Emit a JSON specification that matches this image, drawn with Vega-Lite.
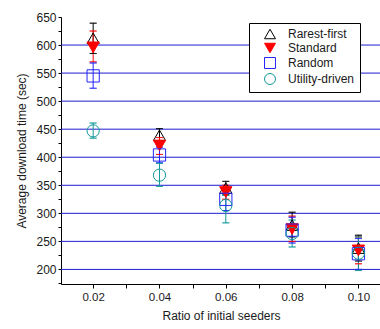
{
  "$schema": "https://vega.github.io/schema/vega-lite/v6.json",
  "autosize": {"type": "none"},
  "width": 320,
  "height": 267,
  "padding": {"left": 61, "top": 17, "right": 0, "bottom": 45},
  "background": "white",
  "config": {
    "view": {"stroke": null},
    "font": "Liberation Sans",
    "axis": {
      "labelFont": "Liberation Sans",
      "titleFont": "Liberation Sans",
      "labelColor": "#1a1a1a",
      "titleColor": "#1a1a1a",
      "titleFontWeight": "normal",
      "domainColor": "#000000",
      "tickColor": "#000000",
      "domainWidth": 1,
      "tickWidth": 1,
      "grid": false
    },
    "legend": {
      "orient": "none",
      "legendX": 188,
      "legendY": 6,
      "strokeColor": "#000000",
      "fillColor": "#ffffff",
      "padding": 5,
      "symbolOffset": 10,
      "symbolSize": 120,
      "symbolStrokeWidth": 1,
      "symbolOpacity": 1,
      "labelFont": "Liberation Sans",
      "labelFontSize": 12,
      "labelColor": "#1a1a1a",
      "labelOffset": 12,
      "rowPadding": 0
    }
  },
  "datasets": {
    "gridlines": [
      {"level": 200}, {"level": 250}, {"level": 300}, {"level": 350}, {"level": 400},
      {"level": 450}, {"level": 500}, {"level": 550}, {"level": 600}
    ],
    "results": [
      {"ratio": 0.02, "method": "Rarest-first", "mean": 612, "lo": 585, "hi": 639},
      {"ratio": 0.02, "method": "Standard", "mean": 596, "lo": 570, "hi": 625},
      {"ratio": 0.02, "method": "Random", "mean": 545, "lo": 523, "hi": 568},
      {"ratio": 0.02, "method": "Utility-driven", "mean": 447, "lo": 434, "hi": 461},
      {"ratio": 0.04, "method": "Rarest-first", "mean": 439, "lo": 428, "hi": 451},
      {"ratio": 0.04, "method": "Standard", "mean": 421, "lo": 405, "hi": 435},
      {"ratio": 0.04, "method": "Random", "mean": 404, "lo": 390, "hi": 418},
      {"ratio": 0.04, "method": "Utility-driven", "mean": 368, "lo": 348, "hi": 389},
      {"ratio": 0.06, "method": "Rarest-first", "mean": 345, "lo": 333, "hi": 357},
      {"ratio": 0.06, "method": "Standard", "mean": 338, "lo": 325, "hi": 350},
      {"ratio": 0.06, "method": "Random", "mean": 325, "lo": 305, "hi": 340},
      {"ratio": 0.06, "method": "Utility-driven", "mean": 314, "lo": 283, "hi": 332},
      {"ratio": 0.08, "method": "Rarest-first", "mean": 279, "lo": 258, "hi": 302},
      {"ratio": 0.08, "method": "Standard", "mean": 272, "lo": 250, "hi": 295},
      {"ratio": 0.08, "method": "Random", "mean": 270, "lo": 247, "hi": 293},
      {"ratio": 0.08, "method": "Utility-driven", "mean": 264, "lo": 240, "hi": 288},
      {"ratio": 0.10, "method": "Rarest-first", "mean": 238, "lo": 215, "hi": 261},
      {"ratio": 0.10, "method": "Standard", "mean": 234, "lo": 210, "hi": 258},
      {"ratio": 0.10, "method": "Random", "mean": 228, "lo": 200, "hi": 255},
      {"ratio": 0.10, "method": "Utility-driven", "mean": 229, "lo": 198, "hi": 258}
    ]
  },
  "encoding": {
    "y": {
      "type": "quantitative",
      "scale": {"domain": [174, 650], "nice": false, "zero": false},
      "axis": {
        "title": "Average download time (sec)",
        "titleFontSize": 12,
        "titlePadding": 7,
        "labelFontSize": 12,
        "labelPadding": 2,
        "values": [175, 200, 225, 250, 275, 300, 325, 350, 375, 400, 425, 450, 475, 500, 525, 550, 575, 600, 625, 650],
        "labelExpr": "datum.value % 50 === 0 ? datum.label : ''",
        "tickSize": 3
      }
    }
  },
  "layer": [
    {
      "data": {"name": "gridlines"},
      "mark": {"type": "rule", "color": "#1c1cd0", "strokeWidth": 1},
      "encoding": {"y": {"field": "level"}}
    },
    {
      "data": {"name": "results"},
      "encoding": {
        "x": {
          "field": "ratio",
          "type": "quantitative",
          "scale": {"domain": [0.0103, 0.1068], "nice": false, "zero": false},
          "axis": {
            "title": "Ratio of initial seeders",
            "titleFontSize": 12,
            "titlePadding": 8,
            "labelFontSize": 11.5,
            "labelPadding": 3,
            "values": [0.01, 0.02, 0.03, 0.04, 0.05, 0.06, 0.07, 0.08, 0.09, 0.10],
            "labelExpr": "round(datum.value * 100) % 2 === 0 ? format(datum.value, '.2f') : ''",
            "tickSize": 4
          }
        },
        "color": {
          "field": "method",
          "type": "nominal",
          "title": null,
          "scale": {
            "domain": ["Rarest-first", "Standard", "Random", "Utility-driven"],
            "range": ["#000000", "#ff0000", "#2424ff", "#119898"]
          }
        }
      },
      "layer": [
        {
          "mark": {"type": "rule", "strokeWidth": 1},
          "encoding": {"y": {"field": "lo"}, "y2": {"field": "hi"}}
        },
        {
          "mark": {"type": "tick", "orient": "horizontal", "size": 7, "thickness": 0.01, "filled": false, "strokeWidth": 1},
          "encoding": {"y": {"field": "lo"}}
        },
        {
          "mark": {"type": "tick", "orient": "horizontal", "size": 7, "thickness": 0.01, "filled": false, "strokeWidth": 1},
          "encoding": {"y": {"field": "hi"}}
        },
        {
          "mark": {"type": "point", "size": 150, "strokeWidth": 1, "opacity": 1, "filled": false},
          "encoding": {
            "y": {"field": "mean"},
            "fill": {
              "field": "method",
              "type": "nominal",
              "title": null,
              "scale": {
                "domain": ["Rarest-first", "Standard", "Random", "Utility-driven"],
                "range": ["transparent", "#ff0000", "transparent", "transparent"]
              }
            },
            "shape": {
              "field": "method",
              "type": "nominal",
              "title": null,
              "scale": {
                "domain": ["Rarest-first", "Standard", "Random", "Utility-driven"],
                "range": ["triangle-up", "triangle-down", "square", "circle"]
              }
            }
          }
        }
      ]
    }
  ]
}
